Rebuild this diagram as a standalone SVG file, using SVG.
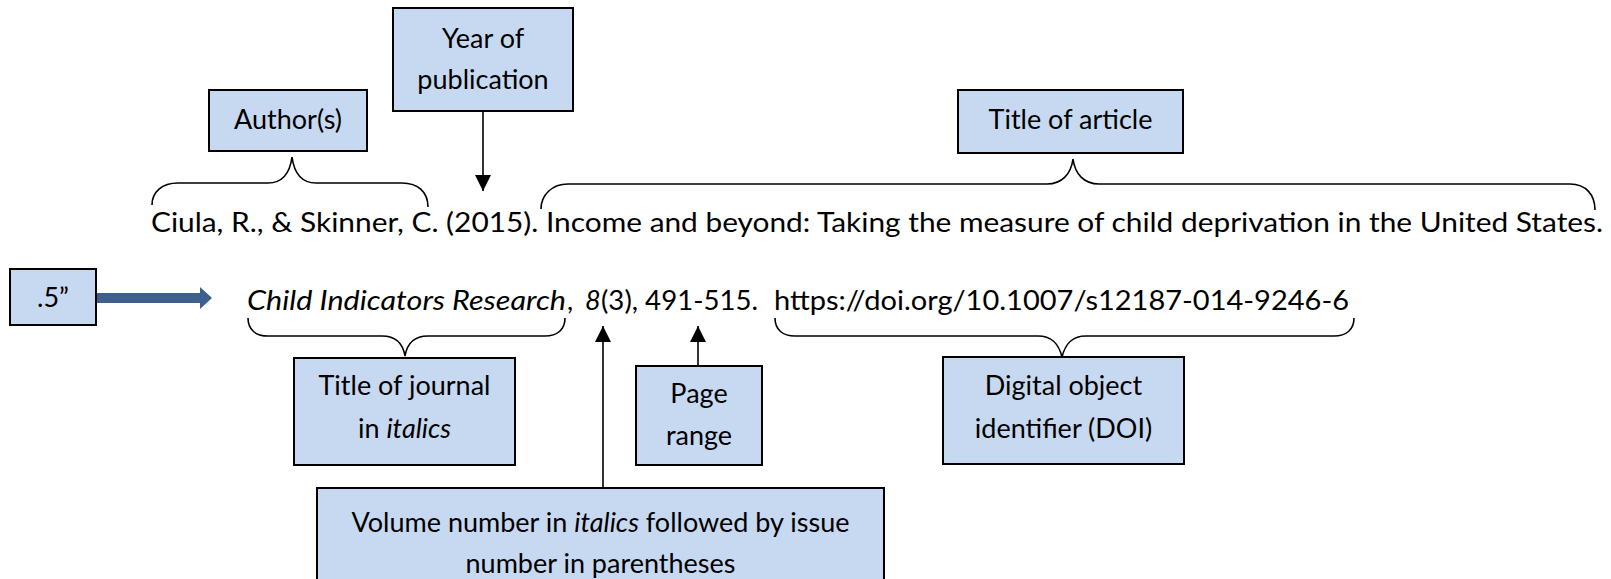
<svg xmlns="http://www.w3.org/2000/svg" width="1611" height="579" viewBox="0 0 1611 579">
<style>
.box{fill:#C6D9F1;stroke:#000;stroke-width:2}
.t{font-family:Lato,"Liberation Sans",sans-serif;font-size:27px;fill:#000}
.c{text-anchor:middle}
.i{font-style:italic}
.br{fill:none;stroke:#000;stroke-width:1.6}
.ln{fill:none;stroke:#000;stroke-width:1.6}
</style>
<defs>
<marker id="ah" viewBox="0 0 16 16" refX="16" refY="8" markerWidth="16" markerHeight="16" markerUnits="userSpaceOnUse" orient="auto">
<path d="M0,0 L16,8 L0,16 Z" fill="#000"/>
</marker>
</defs>
<rect width="1611" height="579" fill="#fff"/>

<g id="citation">
<text class="t" x="151" y="232" textLength="1452" lengthAdjust="spacingAndGlyphs">Ciula, R., &amp; Skinner, C. (2015). Income and beyond: Taking the measure of child deprivation in the United States.</text>
<text class="t i" x="247" y="310" textLength="319" lengthAdjust="spacingAndGlyphs">Child Indicators Research</text>
<text class="t" x="567" y="310">,</text>
<text class="t i" x="585" y="310">8</text>
<text class="t" x="601" y="310" textLength="157" lengthAdjust="spacingAndGlyphs">(3), 491-515.</text>
<text class="t" x="774" y="310" textLength="575" lengthAdjust="spacingAndGlyphs">https://doi.org/10.1007/s12187-014-9246-6</text>
</g>

<g id="connectors">
<path class="br" d="M152,205 C152,192 162,183 178,183 L268,183 C283,183 290,172 292,157 C294,172 301,183 316,183 L402,183 C418,183 428,192 428,207"/>
<path class="br" d="M541,209 C541,195 552,184 568,184 L1047,184 C1062,184 1071,174 1073,159 C1075,174 1084,184 1099,184 L1570,184 C1586,184 1595,195 1595,210"/>
<path class="br" d="M248,318 C248,330 256,336 268,336 L382,336 C397,336 403,344 405,356 C407,344 413,336 428,336 L545,336 C557,336 565,330 565,318"/>
<path class="br" d="M775,318 C775,330 783,336 795,336 L1038,336 C1053,336 1059,345 1062,357 C1065,345 1071,336 1086,336 L1334,336 C1346,336 1354,330 1354,318"/>
<line class="ln" x1="483" y1="111" x2="483" y2="191" marker-end="url(#ah)"/>
<line class="ln" x1="603" y1="488" x2="603" y2="326" marker-end="url(#ah)"/>
<line class="ln" x1="698" y1="366" x2="698" y2="326" marker-end="url(#ah)"/>
<path d="M96,293 L200,293 L200,287 L212,298 L200,309 L200,303 L96,303 Z" fill="#3C5F8D"/>
</g>

<g id="author">
<rect class="box" x="209" y="90" width="158" height="61"/>
<text class="t c" x="288" y="129">Author(s)</text>
</g>

<g id="year">
<rect class="box" x="393" y="8" width="180" height="103"/>
<text class="t c" x="483" y="48">Year of</text>
<text class="t c" x="483" y="89">publication</text>
</g>

<g id="title-article">
<rect class="box" x="958" y="90" width="225" height="63"/>
<text class="t c" x="1070.5" y="129">Title of article</text>
</g>

<g id="indent">
<rect class="box" x="10" y="269" width="86" height="56"/>
<text class="t c" x="53" y="307">.5”</text>
</g>

<g id="title-journal">
<rect class="box" x="294" y="358" width="221" height="107"/>
<text class="t c" x="404.5" y="395">Title of journal</text>
<text class="t c" x="404.5" y="438">in <tspan class="i">italics</tspan></text>
</g>

<g id="page-range">
<rect class="box" x="636" y="366" width="126" height="99"/>
<text class="t c" x="699" y="403">Page</text>
<text class="t c" x="699" y="445">range</text>
</g>

<g id="doi">
<rect class="box" x="943" y="357" width="241" height="107"/>
<text class="t c" x="1063.5" y="395">Digital object</text>
<text class="t c" x="1063.5" y="438">identifier (DOI)</text>
</g>

<g id="volume">
<rect class="box" x="317" y="488" width="567" height="120"/>
<text class="t c" x="600.5" y="532">Volume number in <tspan class="i">italics</tspan> followed by issue</text>
<text class="t c" x="600.5" y="573">number in parentheses</text>
</g>
</svg>
